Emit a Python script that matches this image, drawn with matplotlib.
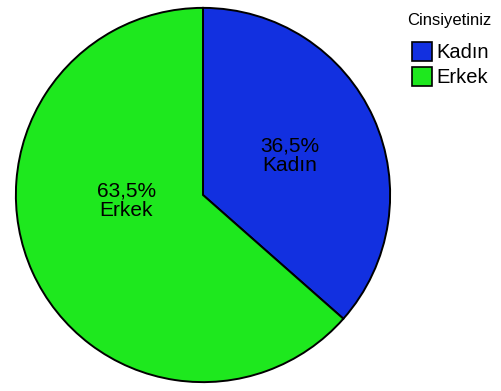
import matplotlib.pyplot as plt
from matplotlib.patches import Patch

plt.rcParams['font.family'] = ['Liberation Sans', 'DejaVu Sans']

categories = ['Kadın', 'Erkek']
percents = [36.5, 63.5]
colors = ['#1230e0', '#1ee81e']
label_pos = [(0.465, 0.21), (-0.41, -0.03)]

fig = plt.figure(figsize=(5.02, 3.91), dpi=100)
ax = fig.add_axes([14 / 502, 7 / 391, 378 / 502, 378 / 391])

ax.pie(percents, colors=colors, startangle=90, counterclock=False,
       wedgeprops=dict(edgecolor='black', linewidth=1.4))
ax.set_xlim(-1.01, 1.01)
ax.set_ylim(-1.01, 1.01)
ax.set_aspect('equal')

for (x, y), cat, p in zip(label_pos, categories, percents):
    txt = f"{p:.1f}%".replace('.', ',') + "\n" + cat
    ax.text(x, y, txt, ha='center', va='center', fontsize=15, linespacing=1.0)

# legend title and entries
fig.text(407 / 502, 1 - 21 / 391, 'Cinsiyetiniz', ha='left', va='center',
         fontsize=12)
handles = [Patch(facecolor=c, edgecolor='black', linewidth=1.2) for c in colors]
fig.legend(handles, categories, loc='upper left',
           bbox_to_anchor=(412 / 502, 1 - 42 / 391), frameon=False,
           fontsize=14.5, handlelength=1.0, handleheight=1.05,
           handletextpad=0.2, labelspacing=0.25, borderpad=0,
           borderaxespad=0)

fig.savefig('out.png', dpi=100)
